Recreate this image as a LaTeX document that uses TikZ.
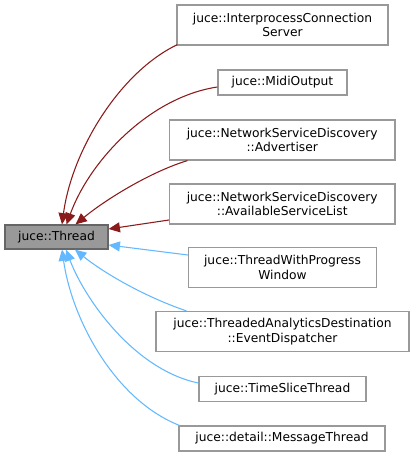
\documentclass[tikz,border=0pt]{standalone}
\usepackage{fontspec}
\setmainfont{DejaVu Sans}
\usetikzlibrary{arrows.meta,calc}
\definecolor{edgered}{HTML}{8B1A1A}
\definecolor{edgeblue}{HTML}{63B8FF}
\definecolor{boxgray}{HTML}{999999}
\definecolor{boxdark}{HTML}{666666}
\begin{document}
\begin{tikzpicture}[x=0.75pt,y=-0.75pt,
  cls/.style={draw=boxgray,line width=0.9pt,fill=white,inner sep=0pt,align=center,
    font=\fontsize{9.2pt}{11pt}\selectfont},
  base/.style={cls,draw=boxdark,fill=boxgray},
  redge/.style={draw=edgered,line width=0.8pt,-{Triangle[length=8.5pt,width=7.5pt,fill=edgered]}},
  bedge/.style={draw=edgeblue,line width=0.8pt,-{Triangle[length=8.5pt,width=7.5pt,fill=edgeblue]}}]
\useasboundingbox (0,0) rectangle (415,457);
\node[base,minimum width=77.25pt,minimum height=18pt] (T) at (56.5,237) {juce::Thread};
\node[cls,minimum width=158.25pt,minimum height=30pt] (n1) at (282.5,25) {juce::InterprocessConnection\\Server};
\node[cls,minimum width=96.75pt,minimum height=18.75pt] (n2) at (282.5,82.5) {juce::MidiOutput};
\node[cls,minimum width=169.1pt,minimum height=30pt] (n3) at (282.25,140) {juce::NetworkServiceDiscovery\\::Advertiser};
\node[cls,minimum width=169.1pt,minimum height=30pt] (n4) at (282.25,204) {juce::NetworkServiceDiscovery\\::AvailableServiceList};
\node[cls,minimum width=141pt,minimum height=30pt] (n5) at (282.5,267.5) {juce::ThreadWithProgress\\Window};
\node[cls,minimum width=189.75pt,minimum height=30pt] (n6) at (282.5,331.5) {juce::ThreadedAnalyticsDestination\\::EventDispatcher};
\node[cls,minimum width=125.25pt,minimum height=19pt] (n7) at (282.5,389) {juce::TimeSliceThread};
\node[cls,minimum width=154.5pt,minimum height=18.75pt] (n8) at (282,438.5) {juce::detail::MessageThread};
\draw[redge] ($(n1.south west)+(1,-1)$) .. controls (120,72) and (72,150) .. ($(T.north)+(5.5,0)$);
\draw[redge] ($(n2.west)+(0,4.5)$) .. controls (150,97) and (90,160) .. ($(T.north)+(10,0)$);
\draw[redge] ($(n3.south west)+(18.5,0)$) .. controls (150,172) and (105,200) .. ($(T.north)+(19,0)$);
\draw[redge] ($(n4.west)+(0,16)$) -- ($(T.east)+(0,-8)$);
\draw[bedge] ($(n5.west)+(0,-12.5)$) -- ($(T.east)+(0,8)$);
\draw[bedge] ($(n6.north west)+(31,0)$) .. controls (140,295) and (100,270) .. ($(T.south)+(18.5,0)$);
\draw[bedge] ($(n7.west)+(0,-6)$) .. controls (135,370) and (85,300) .. ($(T.south)+(9.5,0)$);
\draw[bedge] ($(n8.north west)+(1,0)$) .. controls (115,400) and (72,320) .. ($(T.south)+(5.5,0)$);
\end{tikzpicture}
\end{document}
